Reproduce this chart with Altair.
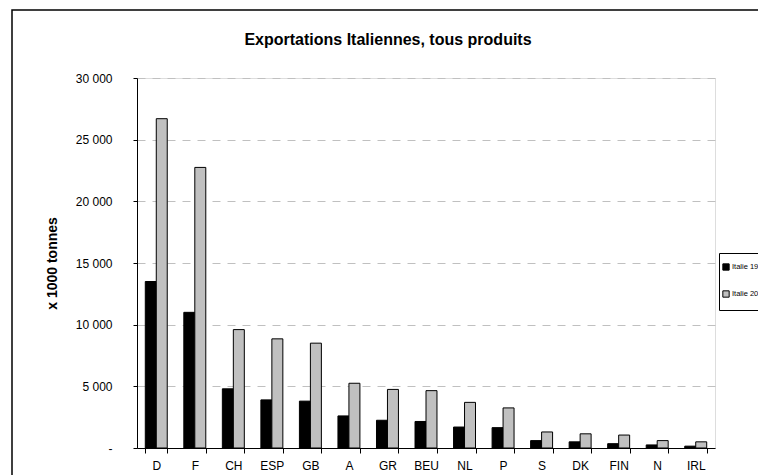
import altair as alt
import pandas as pd

countries = ["D", "F", "CH", "ESP", "GB", "A", "GR", "BEU", "NL", "P", "S", "DK", "FIN", "N", "IRL"]
series_names = ["Italie 1995", "Italie 2005"]
values_1 = [13500, 11000, 4800, 3900, 3800, 2600, 2250, 2150, 1700, 1650, 600, 500, 350, 250, 150]
values_2 = [26700, 22750, 9600, 8850, 8500, 5250, 4750, 4650, 3700, 3250, 1300, 1150, 1050, 600, 500]

rows = []
for c, a, b in zip(countries, values_1, values_2):
    rows.append({"pays": c, "serie": series_names[0], "valeur": a})
    rows.append({"pays": c, "serie": series_names[1], "valeur": b})
df = pd.DataFrame(rows)

FONT = "Liberation Sans"

bars = alt.Chart(df).mark_bar(stroke="black", strokeWidth=1).encode(
    x=alt.X("pays:N", sort=countries, title=None,
            scale=alt.Scale(paddingInner=0.43, paddingOuter=0.215),
            axis=alt.Axis(labelAngle=0, tickBand="extent", ticks=True, tickSize=5,
                          tickColor="black", domainColor="black", labelFontSize=12,
                          labelFont=FONT, labelColor="black", labelPadding=7, grid=False)),
    xOffset=alt.XOffset("serie:N", sort=series_names),
    y=alt.Y("valeur:Q", title="x 1000 tonnes",
            scale=alt.Scale(domain=[0, 30000], nice=False),
            axis=alt.Axis(values=[0, 5000, 10000, 15000, 20000, 25000, 30000],
                          labelExpr="datum.value == 0 ? '-' : replace(format(datum.value, ','), ',', ' ')",
                          tickSize=4, tickColor="black", domainColor="black",
                          labelFontSize=12, labelFont=FONT, labelColor="black", labelPadding=21,
                          grid=True, gridDash=[8, 7], gridColor="#c0c0c0", gridWidth=1,
                          titleFont=FONT, titleFontSize=14, titleFontWeight="bold",
                          titleX=-85, titleY=185, titleAngle=-90, titleBaseline="middle",
                          titleAlign="center", titleColor="black")),
    color=alt.Color("serie:N", sort=series_names, title=None,
                    scale=alt.Scale(domain=series_names, range=["#000000", "#c0c0c0"]),
                    legend=alt.Legend(orient="none", legendX=582, legendY=175,
                                      strokeColor="black", padding=10, rowPadding=15,
                                      symbolType="square", symbolSize=40,
                                      symbolStrokeColor="black", symbolStrokeWidth=1,
                                      symbolOpacity=1,
                                      symbolOffset=-7, labelFontSize=7.5, labelFont=FONT,
                                      labelColor="black", labelOffset=2, fillColor="white")),
)

frame = alt.Chart(pd.DataFrame({"k": [0]})).mark_rect(
    fill=None, stroke="black", strokeWidth=1.5
).encode(
    x=alt.value(-125), x2=alt.value(660), y=alt.value(-68), y2=alt.value(420)
)

chart = alt.layer(frame, bars).properties(
    width=578, height=370,
    autosize=alt.AutoSizeParams(type="none"),
    padding={"left": 137, "top": 78, "right": 43, "bottom": 27},
    title=alt.TitleParams("Exportations Italiennes, tous produits", font=FONT, fontSize=16,
                          fontWeight="bold", anchor="middle", dx=-38, dy=68, offset=16,
                          baseline="alphabetic", color="black"),
).configure_view(stroke=None).configure(background="white")

chart.save("out.html", embed_options={"renderer": "svg", "actions": False})
